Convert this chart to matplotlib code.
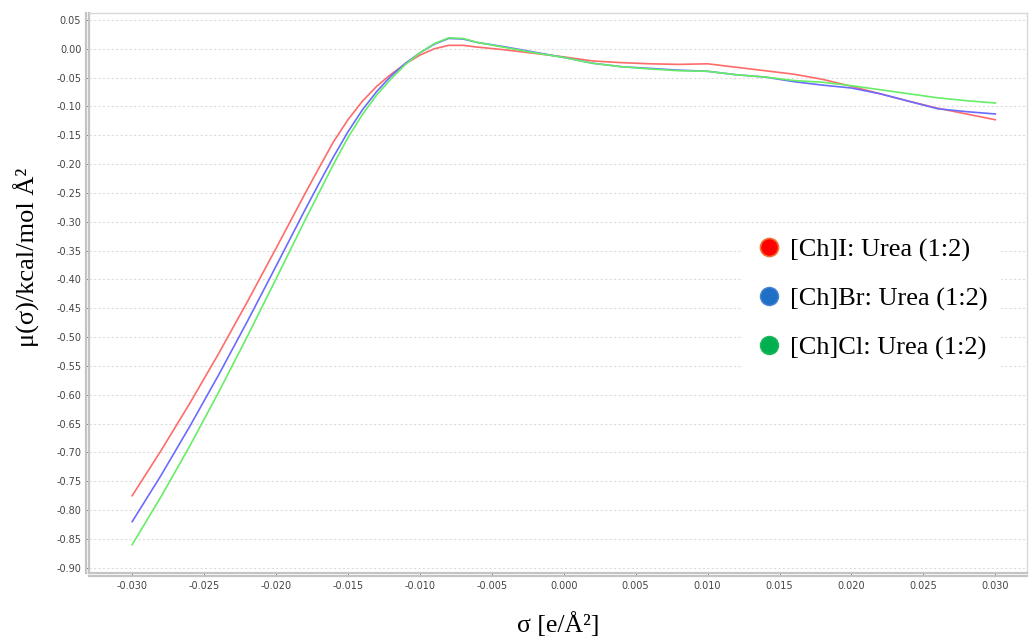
import matplotlib
matplotlib.use("Agg")
import matplotlib.pyplot as plt
import matplotlib.transforms as mtransforms
from matplotlib.lines import Line2D

# sigma grid [e/A^2], finer around the maximum
sigma = [-0.030, -0.028, -0.026, -0.024, -0.022, -0.020,
         -0.018, -0.017, -0.016, -0.015, -0.014, -0.013, -0.012, -0.011,
         -0.010, -0.009, -0.008, -0.007, -0.006, -0.004, -0.002, 0.000,
         0.002, 0.004, 0.006, 0.008, 0.010, 0.012, 0.014, 0.016,
         0.018, 0.020, 0.022, 0.024, 0.026, 0.028, 0.030]

# sigma potentials mu(sigma) [kcal/mol A^2]
mu_i = [-0.775, -0.697, -0.615, -0.529, -0.439, -0.346,
        -0.252, -0.206, -0.161, -0.123, -0.091, -0.065, -0.044, -0.026,
        -0.011, 0.000, 0.006, 0.006, 0.003, -0.002, -0.008, -0.014,
        -0.021, -0.024, -0.026, -0.027, -0.026, -0.032, -0.038, -0.044,
        -0.053, -0.065, -0.078, -0.091, -0.103, -0.113, -0.123]
mu_br = [-0.820, -0.740, -0.655, -0.566, -0.473, -0.377,
         -0.280, -0.233, -0.187, -0.144, -0.106, -0.074, -0.047, -0.025,
         -0.007, 0.008, 0.018, 0.017, 0.011, 0.003, -0.006, -0.015,
         -0.025, -0.031, -0.034, -0.037, -0.039, -0.045, -0.049, -0.057,
         -0.063, -0.068, -0.078, -0.091, -0.104, -0.109, -0.113]
mu_cl = [-0.860, -0.777, -0.689, -0.596, -0.499, -0.399,
         -0.298, -0.249, -0.200, -0.154, -0.114, -0.080, -0.052, -0.027,
         -0.007, 0.009, 0.019, 0.018, 0.011, 0.002, -0.007, -0.015,
         -0.025, -0.031, -0.035, -0.038, -0.039, -0.045, -0.049, -0.055,
         -0.058, -0.064, -0.071, -0.078, -0.085, -0.090, -0.094]

labels = ["[Ch]I: Urea (1:2)", "[Ch]Br: Urea (1:2)", "[Ch]Cl: Urea (1:2)"]
xticks = [-0.030, -0.025, -0.020, -0.015, -0.010, -0.005, 0.000,
          0.005, 0.010, 0.015, 0.020, 0.025, 0.030]
yticks = [round(0.05 - 0.05 * i, 2) for i in range(20)]

fig = plt.figure(figsize=(10.29, 6.37), dpi=100)
ax = fig.add_axes([0.0865, 0.1005, 0.9115, 0.879])

ax.plot(sigma, mu_i, color="#ff6b6b", lw=1.2)
ax.plot(sigma, mu_br, color="#6b6bff", lw=1.2)
ax.plot(sigma, mu_cl, color="#66ee66", lw=1.2)

ax.set_xlim(-0.033, 0.0322)
ax.set_ylim(-0.909, 0.062)
ax.set_xticks(xticks)
ax.set_xticklabels(["%.3f" % t for t in xticks])
ax.set_yticks(yticks)
ax.set_yticklabels(["%.2f" % t for t in yticks])
ax.tick_params(labelsize=7, colors="#555555", length=2, width=0.6)
ax.tick_params(axis="x", pad=4)
for lab in ax.get_xticklabels() + ax.get_yticklabels():
    lab.set_color("#444444")

ax.grid(axis="y", color="#dddddd", linestyle=(0, (2, 2)), lw=0.8)
ax.set_axisbelow(True)

for side in ["top", "right"]:
    ax.spines[side].set_color("#d8d8d8")
    ax.spines[side].set_linewidth(1.0)
for side in ["left", "bottom"]:
    ax.spines[side].set_color("#c4c4c4")
    ax.spines[side].set_linewidth(1.6)

# second, outer rule on the left and bottom
off_l = mtransforms.offset_copy(ax.transAxes, fig=fig, x=-3.5, y=0, units="dots")
off_b = mtransforms.offset_copy(ax.transAxes, fig=fig, x=0, y=-3.5, units="dots")
ax.add_line(Line2D([0, 0], [0, 1], transform=off_l, color="#c4c4c4", lw=1.6, clip_on=False))
ax.add_line(Line2D([0, 1], [0, 0], transform=off_b, color="#c4c4c4", lw=1.6, clip_on=False))

ax.set_xlabel("σ [e/Å²]", family="Liberation Serif", fontsize=18.5, labelpad=15)
ax.set_ylabel("μ(σ)/kcal/mol Å²", family="Liberation Serif", fontsize=19)
ax.yaxis.set_label_coords(-0.052, 0.564)

handles = [
    Line2D([], [], ls="none", marker="o", ms=13, mfc="#ff0000", mec="#f07030", mew=1.2),
    Line2D([], [], ls="none", marker="o", ms=13, mfc="#1f6fc6", mec="#4a86d0", mew=1.0),
    Line2D([], [], ls="none", marker="o", ms=13, mfc="#00b050", mec="#20b860", mew=1.0),
]
leg = ax.legend(handles, labels, loc="center left", bbox_to_anchor=(0.683, 0.49),
                prop={"family": "Liberation Serif", "size": 19}, frameon=True,
                framealpha=1.0, edgecolor="none", handletextpad=0.3,
                labelspacing=0.95, handlelength=1.0, borderpad=0.5)
leg.get_frame().set_boxstyle("square", pad=0.0)

fig.savefig("out.png", dpi=100)
